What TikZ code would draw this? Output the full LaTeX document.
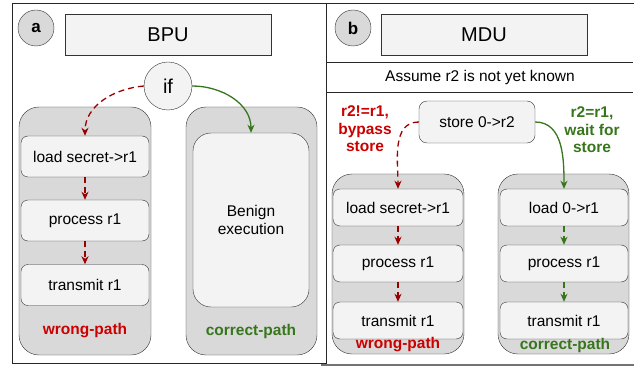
\documentclass[tikz,border=0pt]{standalone}
\usepackage{fontspec}
\setmainfont{Liberation Sans}
\usetikzlibrary{arrows.meta}

\definecolor{boxfill}{HTML}{F3F3F3}
\definecolor{pathfill}{HTML}{D9D9D9}
\definecolor{wrongred}{HTML}{CC0000}
\definecolor{arrowred}{HTML}{990000}
\definecolor{rightgreen}{HTML}{38761D}

\tikzset{
  tag/.style={circle,draw=black!80,fill=pathfill,minimum size=36pt,inner sep=0pt,font=\fontsize{17}{20}\selectfont\bfseries},
  unit/.style={draw=black!80,fill=boxfill,minimum width=206pt,minimum height=41pt,font=\fontsize{20}{24}\selectfont},
  lane/.style={draw=black!80,fill=pathfill,rounded corners=20pt,minimum width=132pt},
  stepbox/.style={draw=black!80,fill=boxfill,rounded corners=7pt,minimum width=128pt},
  tip/.style={-{Stealth[length=8pt,width=7pt,inset=2.5pt]}},
  badarrow/.style={tip,draw=arrowred,line width=1.3pt,dash pattern=on 6pt off 4pt},
  goodarrow/.style={tip,draw=rightgreen,line width=1.3pt},
  goodstep/.style={tip,draw=rightgreen,line width=1.3pt,dash pattern=on 6pt off 4pt},
}

\begin{document}
\begin{tikzpicture}[x=1pt,y=-1pt,font=\fontsize{15.5}{17.5}\selectfont]
\useasboundingbox (0,0) rectangle (634,366);

% panel frames
\draw[black!85] (12,3) rectangle (326,363);
\draw[black!85] (326,3) -- (634,3);
\draw[black!85] (326,62) -- (633,62);
\draw[black!85] (326,92) -- (633,92);
\draw[black!55,line width=2pt] (321,365) -- (634,365);

% a: BPU
\node[tag] (taga) at (36,28) {a};
\node[unit] (bpu) at (168,35) {BPU};
\node[circle,draw=black!80,fill=boxfill,minimum size=48pt,inner sep=0pt,font=\fontsize{20}{24}\selectfont] (if) at (168,86) {if};

\node[lane,minimum height=248pt] (wronga) at (85,231) {};
\node[lane,minimum width=131pt,minimum height=248pt] (correcta) at (251.5,231) {};
\node[stepbox,minimum height=41pt] (loada) at (85,156.5) {load secret->r1};
\node[stepbox,minimum height=41pt] (proca) at (85,220.5) {process r1};
\node[stepbox,minimum height=41pt] (transa) at (85,285) {transmit r1};
\node[stepbox,rounded corners=18pt,minimum width=116pt,minimum height=174pt,align=center] (benign) at (251,220) {Benign\\execution};
\node[text=wrongred,font=\fontsize{15.5}{18}\selectfont\bfseries] (wrongla) at (85,331) {wrong-path};
\node[text=rightgreen,font=\fontsize{15.5}{18}\selectfont\bfseries] (correctla) at (251,331) {correct-path};

\draw[badarrow] (if.west) to[out=185,in=90] (loada.north);
\draw[goodarrow] (if.east) to[out=0,in=90] (benign.north);
\draw[badarrow] (loada) -- (proca);
\draw[badarrow] (proca) -- (transa);

% b: MDU
\node[tag] (tagb) at (353,28) {b};
\node[unit] (mdu) at (484,34.5) {MDU};
\node (assume) at (480,77) {Assume r2 is not yet known};
\node[stepbox,rounded corners=8pt,minimum width=116pt,minimum height=42pt] (store) at (477,122) {store 0->r2};
\node[text=wrongred,font=\fontsize{15.5}{17.5}\selectfont\bfseries,align=center] (bypass) at (365,129) {r2!=r1,\\bypass\\store};
\node[text=rightgreen,font=\fontsize{15.5}{17.5}\selectfont\bfseries,align=center] (wait) at (592,130) {r2=r1,\\wait for\\store};

\node[lane,minimum height=180pt] (wrongb) at (398,264) {};
\node[lane,minimum width=131pt,minimum height=180pt] (correctb) at (563.5,264) {};
\node[stepbox,minimum width=130pt,minimum height=37pt] (loadb) at (398,207.5) {load secret->r1};
\node[stepbox,minimum width=130pt,minimum height=37pt] (procb) at (398,263.5) {process r1};
\node[stepbox,minimum width=130pt,minimum height=37pt] (transb) at (398,320.5) {transmit r1};
\node[stepbox,minimum height=37pt] (loadc) at (564,207.5) {load 0->r1};
\node[stepbox,minimum height=37pt] (procc) at (564,263.5) {process r1};
\node[stepbox,minimum height=37pt] (transc) at (564,320.5) {transmit r1};
\node[text=wrongred,font=\fontsize{15.5}{18}\selectfont\bfseries] (wronglb) at (398,345) {wrong-path};
\node[text=rightgreen,font=\fontsize{15.5}{18}\selectfont\bfseries] (correctlb) at (565,345) {correct-path};

\draw[badarrow] (store.west) to[out=180,in=90] (loadb.north);
\draw[goodarrow] (store.east) to[out=0,in=90] (loadc.north);
\draw[badarrow] (loadb) -- (procb);
\draw[badarrow] (procb) -- (transb);
\draw[goodstep] (loadc) -- (procc);
\draw[goodstep] (procc) -- (transc);
\end{tikzpicture}
\end{document}
